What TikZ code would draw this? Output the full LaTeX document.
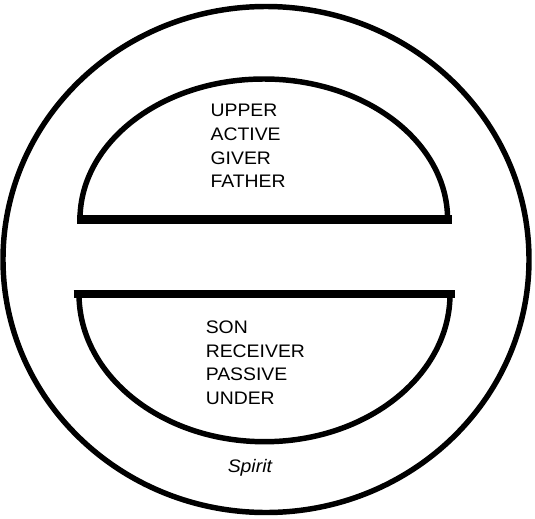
\documentclass[tikz,border=0pt]{standalone}
\usepackage{fontspec}
\setmainfont{Liberation Sans}
\newfontfamily\widesans[FakeStretch=1.07]{Liberation Sans}
\begin{document}
\begin{tikzpicture}[x=0.75pt,y=0.75pt,
  arcline/.style={line width=4.1pt},
  barline/.style={line width=6.6pt},
  lbl/.style={anchor=base west,inner sep=0pt,font=\widesans\fontsize{13.6}{16}\selectfont}]
\useasboundingbox (0,0) rectangle (535,-518);
% outer circle
\draw[arcline] (266,-259.5) ellipse [x radius=263, y radius=253];
% upper half
\draw[arcline] (80,-219.5) arc[start angle=180,end angle=0,x radius=183.8,y radius=140.5];
\draw[barline] (77,-219.5) -- (452,-219.5);
% lower half
\draw[arcline] (79,-294) arc[start angle=180,end angle=360,x radius=185.5,y radius=147.7];
\draw[barline] (73.5,-294) -- (455,-294);
% texts
\node[lbl] (upper) at (210.3,-116.5) {UPPER};
\node[lbl] (active) at (210.3,-140) {ACTIVE};
\node[lbl] (giver) at (210.3,-164) {GIVER};
\node[lbl] (father) at (210.3,-187.7) {FATHER};
\node[lbl] (son) at (205.5,-333) {SON};
\node[lbl] (receiver) at (205.5,-357) {RECEIVER};
\node[lbl] (passive) at (205.5,-380.5) {PASSIVE};
\node[lbl] (under) at (205.5,-404) {UNDER};
\node[lbl,font=\widesans\fontsize{13.6}{16}\selectfont\itshape] (spirit) at (227.5,-472.5) {Spirit};
\end{tikzpicture}
\end{document}
